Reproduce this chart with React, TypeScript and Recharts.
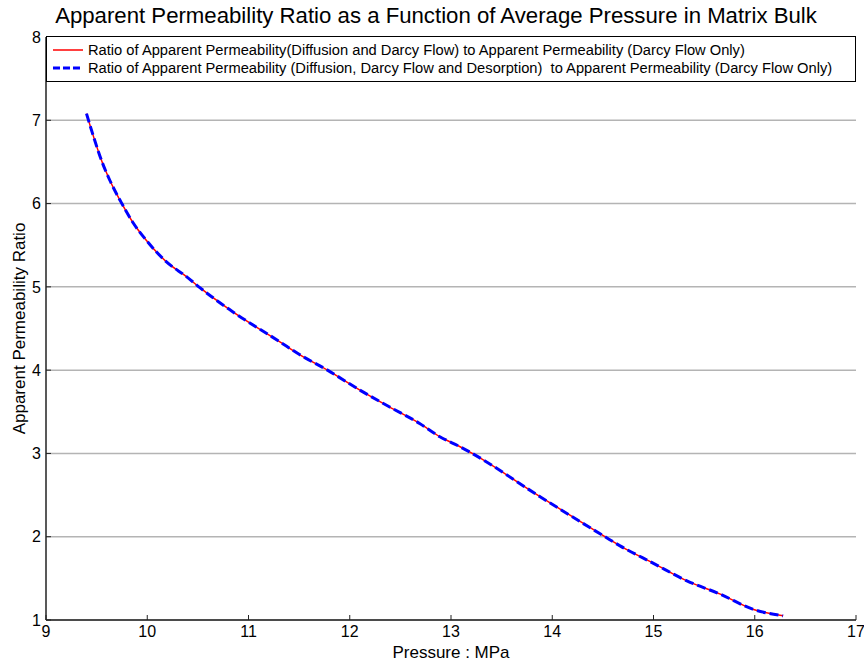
import React from 'react';
import { LineChart, Line, XAxis, YAxis, CartesianGrid, Legend } from 'recharts';

// pressure (MPa)
const PRESSURE = [
  9.4, 9.46, 9.56, 9.63, 9.74, 9.86, 9.99, 10.19, 10.39, 10.52, 10.81, 11.31, 11.5, 11.78,
  12.1, 12.39, 12.69, 12.89, 13.09, 13.21, 13.88, 14.52, 14.67, 15.0, 15.33, 15.66, 15.98, 16.28,
];
// diffusion + darcy flow
const RATIO_DIFFUSION = [
  7.08, 6.84, 6.48, 6.28, 6.02, 5.77, 5.56, 5.3, 5.12, 4.99, 4.73, 4.34, 4.19, 4.0,
  3.76, 3.56, 3.36, 3.2, 3.08, 3.0, 2.48, 2.0, 1.89, 1.68, 1.47, 1.31, 1.13, 1.05,
];
// diffusion + darcy flow + desorption (overlaps the first curve)
const RATIO_DESORPTION = [
  7.08, 6.84, 6.48, 6.28, 6.02, 5.77, 5.56, 5.3, 5.12, 4.99, 4.73, 4.34, 4.19, 4.0,
  3.76, 3.56, 3.36, 3.2, 3.08, 3.0, 2.48, 2.0, 1.89, 1.68, 1.47, 1.31, 1.13, 1.05,
];
const X_TICKS = [9, 10, 11, 12, 13, 14, 15, 16, 17];
const Y_TICKS = [1, 2, 3, 4, 5, 6, 7, 8];

const LABEL_1 =
  'Ratio of Apparent Permeability(Diffusion and Darcy Flow) to Apparent Permeability (Darcy Flow Only)';
const LABEL_2 =
  'Ratio of Apparent Permeability (Diffusion, Darcy Flow and Desorption)  to Apparent Permeability (Darcy Flow Only)';

const data = PRESSURE.map((p, i) => ({
  p,
  diffusion: RATIO_DIFFUSION[i],
  desorption: RATIO_DESORPTION[i],
}));

const FONT = '"Liberation Sans", Arial, sans-serif';

const LegendBox = () => (
  <div
    style={{
      width: 810,
      height: 46,
      boxSizing: 'border-box',
      border: '1px solid #000',
      background: '#fff',
      fontFamily: FONT,
      fontSize: 14.7,
      color: '#000',
      position: 'relative',
    }}
  >
    <div style={{ position: 'absolute', left: 6, top: 4, height: 18, display: 'flex', alignItems: 'center', whiteSpace: 'pre' }}>
      <svg width={30} height={10} style={{ marginRight: 5 }}>
        <line x1={0} y1={5} x2={30} y2={5} stroke="#ff0000" strokeWidth={1.5} />
      </svg>
      {LABEL_1}
    </div>
    <div style={{ position: 'absolute', left: 6, top: 22, height: 18, display: 'flex', alignItems: 'center', whiteSpace: 'pre' }}>
      <svg width={30} height={10} style={{ marginRight: 5 }}>
        <line x1={0} y1={5} x2={30} y2={5} stroke="#0000ff" strokeWidth={3} strokeDasharray="7 3" />
      </svg>
      {LABEL_2}
    </div>
  </div>
);

export default function App() {
  return (
    <div style={{ position: 'absolute', left: 0, top: 0, width: 864, height: 664, background: '#fff' }}>
      <div
        style={{
          position: 'absolute',
          left: 4,
          top: 3,
          width: 864,
          textAlign: 'center',
          fontFamily: FONT,
          fontSize: 22.2,
          lineHeight: '26px',
          color: '#000',
        }}
      >
        Apparent Permeability Ratio as a Function of Average Pressure in Matrix Bulk
      </div>
      <LineChart
        width={864}
        height={664}
        data={data}
        margin={{ top: 37, right: 8, left: 0, bottom: 0 }}
        style={{ fontFamily: FONT }}
      >
        <CartesianGrid vertical={false} stroke="#b4b4b4" strokeWidth={1.5} yAxisId="left" xAxisId="x" />
        <XAxis
          xAxisId="x"
          dataKey="p"
          type="number"
          domain={[9, 17]}
          ticks={X_TICKS}
          height={44}
          tickSize={-5}
          tickMargin={11}
          tick={{ fill: '#000', fontSize: 16 }}
          axisLine={{ stroke: '#222', strokeWidth: 1.5 }}
          tickLine={{ stroke: '#222' }}
          label={{ value: 'Pressure : MPa', position: 'insideBottom', offset: 6, fill: '#000', fontSize: 17 }}
        />
        <XAxis
          xAxisId="top"
          orientation="top"
          dataKey="p"
          type="number"
          domain={[9, 17]}
          height={0}
          tick={false}
          axisLine={{ stroke: '#222', strokeWidth: 1.5 }}
        />
        <YAxis
          yAxisId="left"
          type="number"
          domain={[1, 8]}
          ticks={Y_TICKS}
          width={46}
          tickSize={-5}
          tickMargin={10}
          tick={{ fill: '#000', fontSize: 16 }}
          axisLine={{ stroke: '#222', strokeWidth: 1.5 }}
          tickLine={{ stroke: '#222' }}
          label={{
            value: 'Apparent Permeability Ratio',
            angle: -90,
            position: 'center',
            dx: -4,
            fill: '#000',
            fontSize: 17,
          }}
        />
        <YAxis
          yAxisId="right"
          orientation="right"
          type="number"
          domain={[1, 8]}
          width={0}
          tick={false}
          axisLine={{ stroke: '#222', strokeWidth: 1.5 }}
        />
        <Legend
          layout="vertical"
          verticalAlign="middle"
          align="center"
          content={() => <LegendBox />}
          wrapperStyle={{ position: 'absolute', left: 46, top: 36, width: 810, height: 46 }}
        />
        <Line
          xAxisId="x"
          yAxisId="left"
          type="monotone"
          dataKey="diffusion"
          stroke="#ff0000"
          strokeWidth={1.5}
          dot={false}
          isAnimationActive={false}
        />
        <Line
          xAxisId="x"
          yAxisId="left"
          type="monotone"
          dataKey="desorption"
          stroke="#0000ff"
          strokeWidth={3}
          strokeDasharray="9 4"
          dot={false}
          isAnimationActive={false}
        />
      </LineChart>
    </div>
  );
}
